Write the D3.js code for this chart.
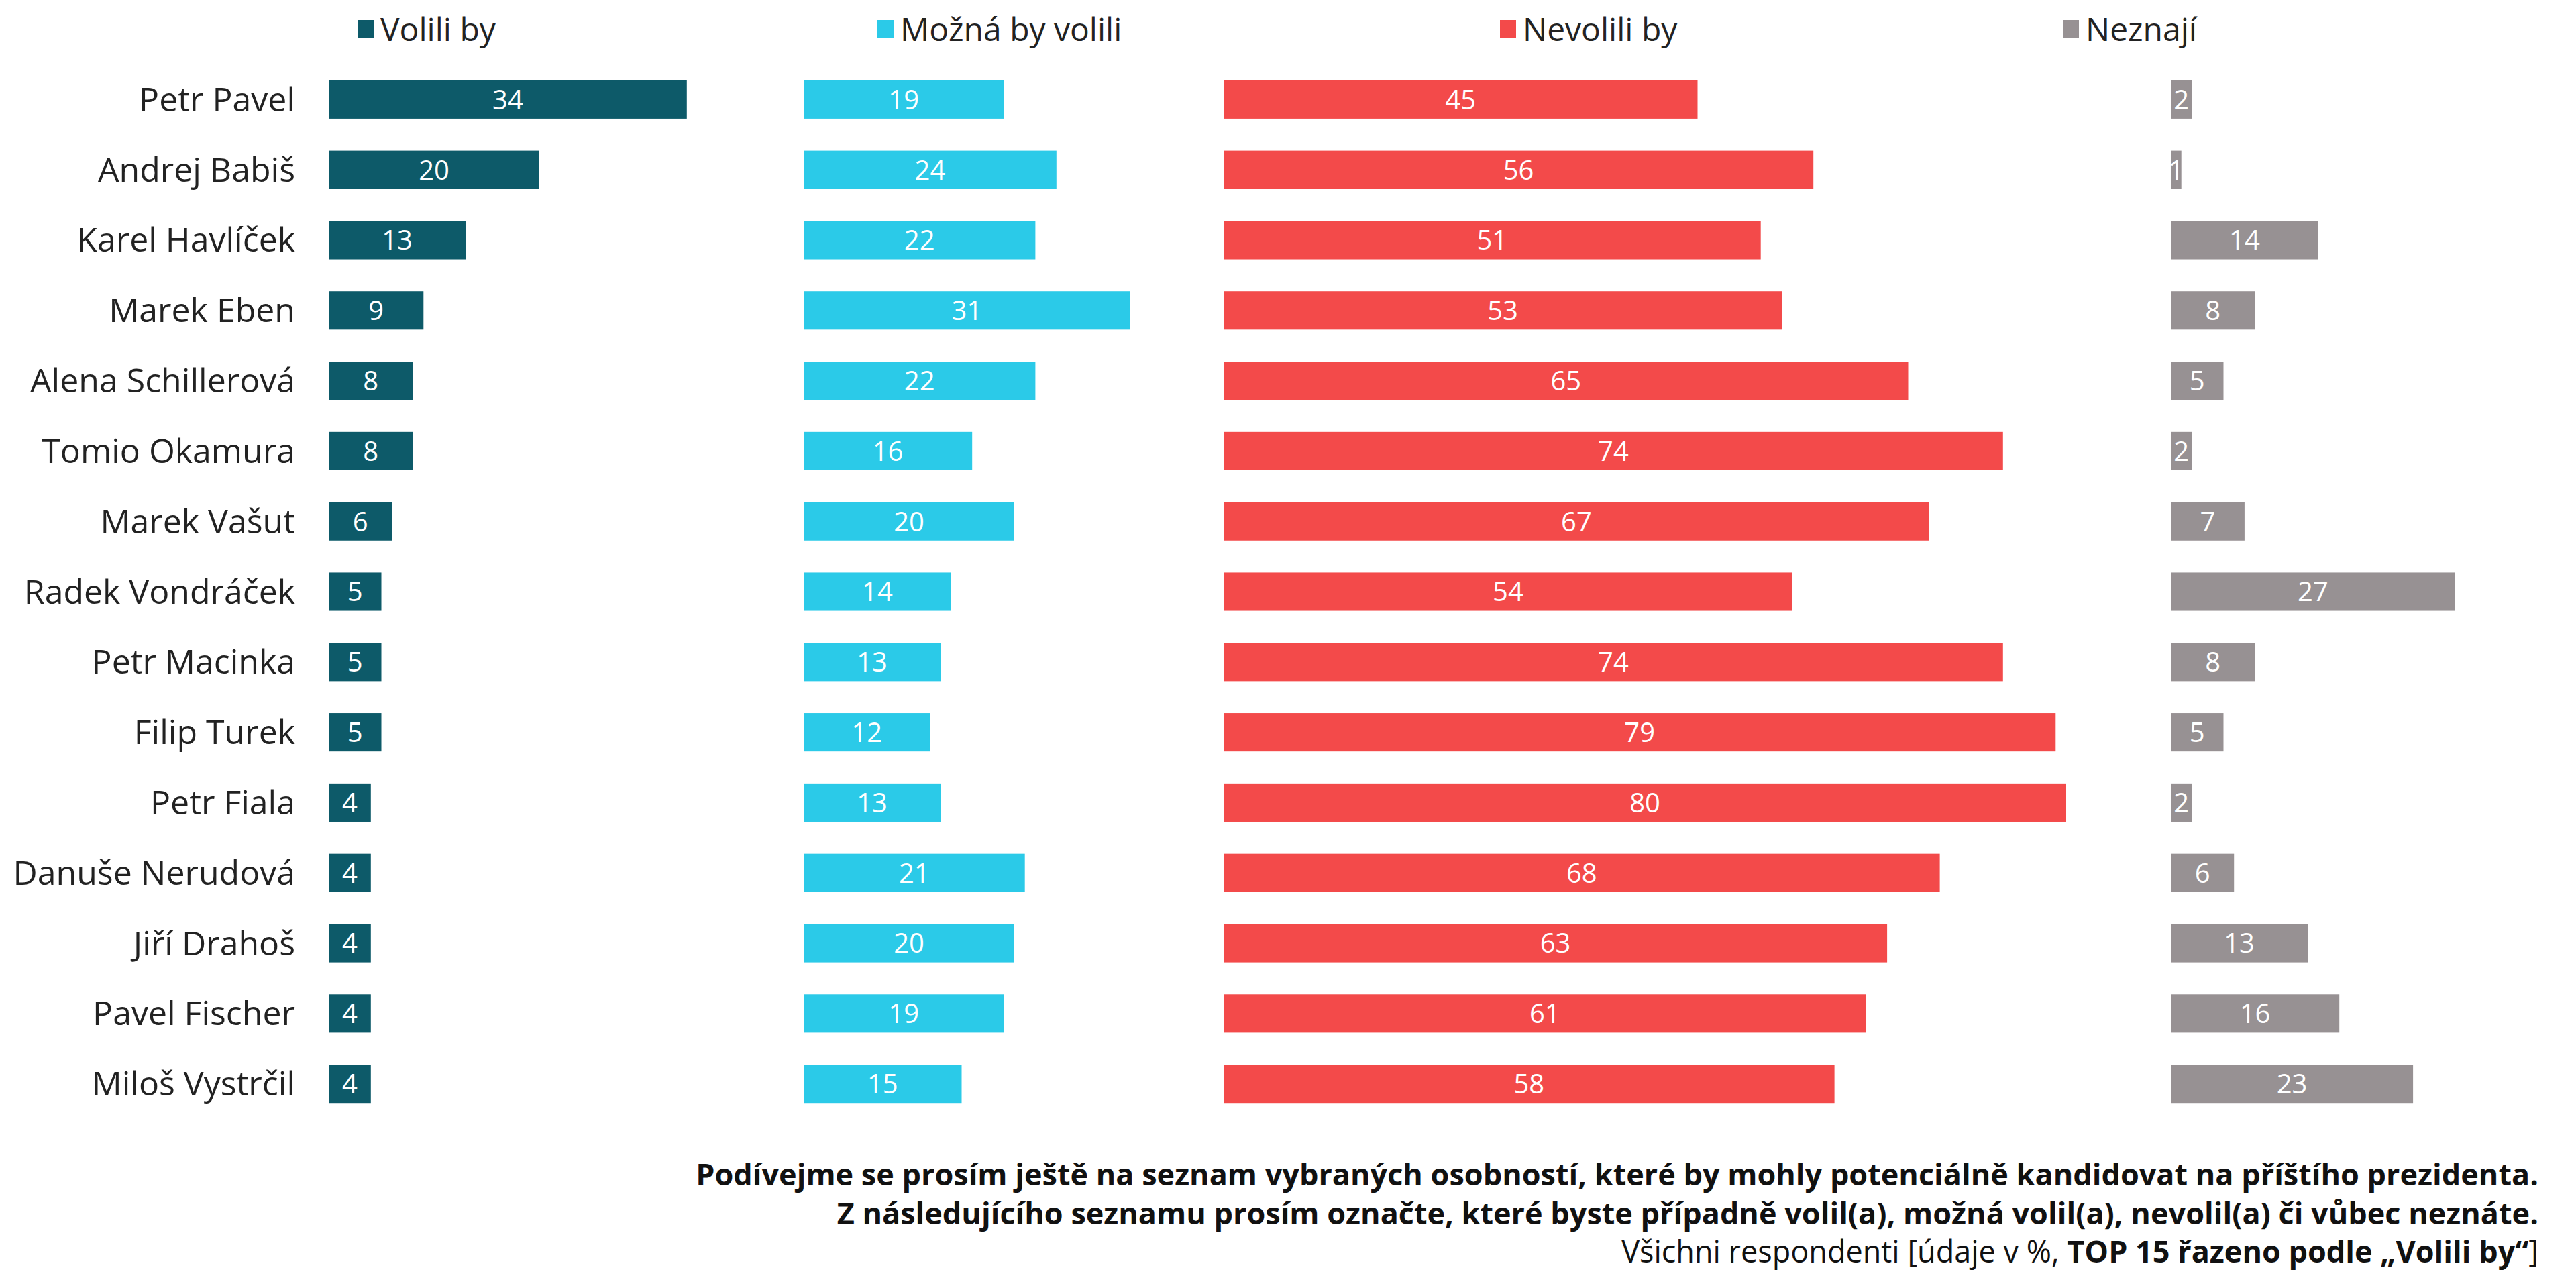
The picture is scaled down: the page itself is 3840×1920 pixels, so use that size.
<!DOCTYPE html>
<html>
<head>
<meta charset="utf-8">
<script src="https://cdn.jsdelivr.net/npm/d3@7"></script>
<style>
  body { margin: 0; background: #fff; }
  svg { display: block; font-family: "Open Sans", "Noto Sans", sans-serif; }
  .name { font-size: 50px; fill: #222; }
  .val { font-size: 40px; fill: #fff; }
  .legend { font-size: 48px; fill: #222; }
  .note { font-size: 45px; fill: #111; }
</style>
</head>
<body>
<svg width="3840" height="1920"></svg>
<script>
const names = ['Petr Pavel', 'Andrej Babiš', 'Karel Havlíček', 'Marek Eben', 'Alena Schillerová',
  'Tomio Okamura', 'Marek Vašut', 'Radek Vondráček', 'Petr Macinka', 'Filip Turek',
  'Petr Fiala', 'Danuše Nerudová', 'Jiří Drahoš', 'Pavel Fischer', 'Miloš Vystrčil'];
const volili   = [34, 20, 13, 9, 8, 8, 6, 5, 5, 5, 4, 4, 4, 4, 4];
const mozna    = [19, 24, 22, 31, 22, 16, 20, 14, 13, 12, 13, 21, 20, 19, 15];
const nevolili = [45, 56, 51, 53, 65, 74, 67, 54, 74, 79, 80, 68, 63, 61, 58];
const neznaji  = [2, 1, 14, 8, 5, 2, 7, 27, 8, 5, 2, 6, 13, 16, 23];
const seriesNames = ['Volili by', 'Možná by volili', 'Nevolili by', 'Neznají'];
const colors = ['#0d5a69', '#2bcae8', '#f34a4a', '#979193'];

const svg = d3.select('svg');

const series = [volili, mozna, nevolili, neznaji];
const colStart = [490, 1198, 1824, 3236];
const legendX = [533, 1308, 2236, 3075];

const yScale = d3.scaleBand()
  .domain(names)
  .range([96, 1668])
  .paddingInner(0.455)
  .paddingOuter(0.227);

const xScale = d3.scaleLinear()
  .domain([0, 100])
  .range([0, 1570]);

// names
svg.append('g').selectAll('text').data(names)
  .enter().append('text')
    .attr('class', 'name')
    .attr('x', 440)
    .attr('y', d => yScale(d) + yScale.bandwidth() / 2)
    .attr('dy', '0.35em')
    .attr('text-anchor', 'end')
    .text(d => d);

series.forEach((vals, i) => {
  const g = svg.append('g')
    .attr('transform', `translate(${colStart[i]},0)`);
  const rows = vals.map((v, j) => ({name: names[j], v}));

  g.selectAll('rect').data(rows)
    .enter().append('rect')
      .attr('y', d => yScale(d.name))
      .attr('width', d => xScale(d.v))
      .attr('height', yScale.bandwidth())
      .attr('fill', colors[i]);

  g.selectAll('text').data(rows)
    .enter().append('text')
      .attr('class', 'val')
      .attr('x', d => xScale(d.v) / 2)
      .attr('y', d => yScale(d.name) + yScale.bandwidth() / 2)
      .attr('dy', '0.36em')
      .attr('text-anchor', 'middle')
      .text(d => d.v);

  // legend
  const lg = svg.append('g')
    .attr('transform', `translate(${legendX[i]},44)`);
  lg.append('rect')
    .attr('x', 0).attr('y', -14)
    .attr('width', 24).attr('height', 26)
    .attr('fill', colors[i]);
  lg.append('text')
    .attr('class', 'legend')
    .attr('x', 34)
    .attr('dy', '0.35em')
    .text(seriesNames[i]);
});

// footnote
const note = svg.append('g').attr('class', 'note')
  .attr('text-anchor', 'end');
note.append('text')
  .attr('x', 3784).attr('y', 1767)
  .attr('font-weight', 'bold')
  .text('Podívejme se prosím ještě na seznam vybraných osobností, které by mohly potenciálně kandidovat na příštího prezidenta.');
note.append('text')
  .attr('x', 3784).attr('y', 1825)
  .attr('font-weight', 'bold')
  .text('Z následujícího seznamu prosím označte, které byste případně volil(a), možná volil(a), nevolil(a) či vůbec neznáte.');
const l3 = note.append('text')
  .attr('x', 3784).attr('y', 1882);
l3.append('tspan').text('Všichni respondenti [údaje v %, ');
l3.append('tspan').attr('font-weight', 'bold').text('TOP 15 řazeno podle „Volili by“');
l3.append('tspan').text(']');
</script>
</body>
</html>
